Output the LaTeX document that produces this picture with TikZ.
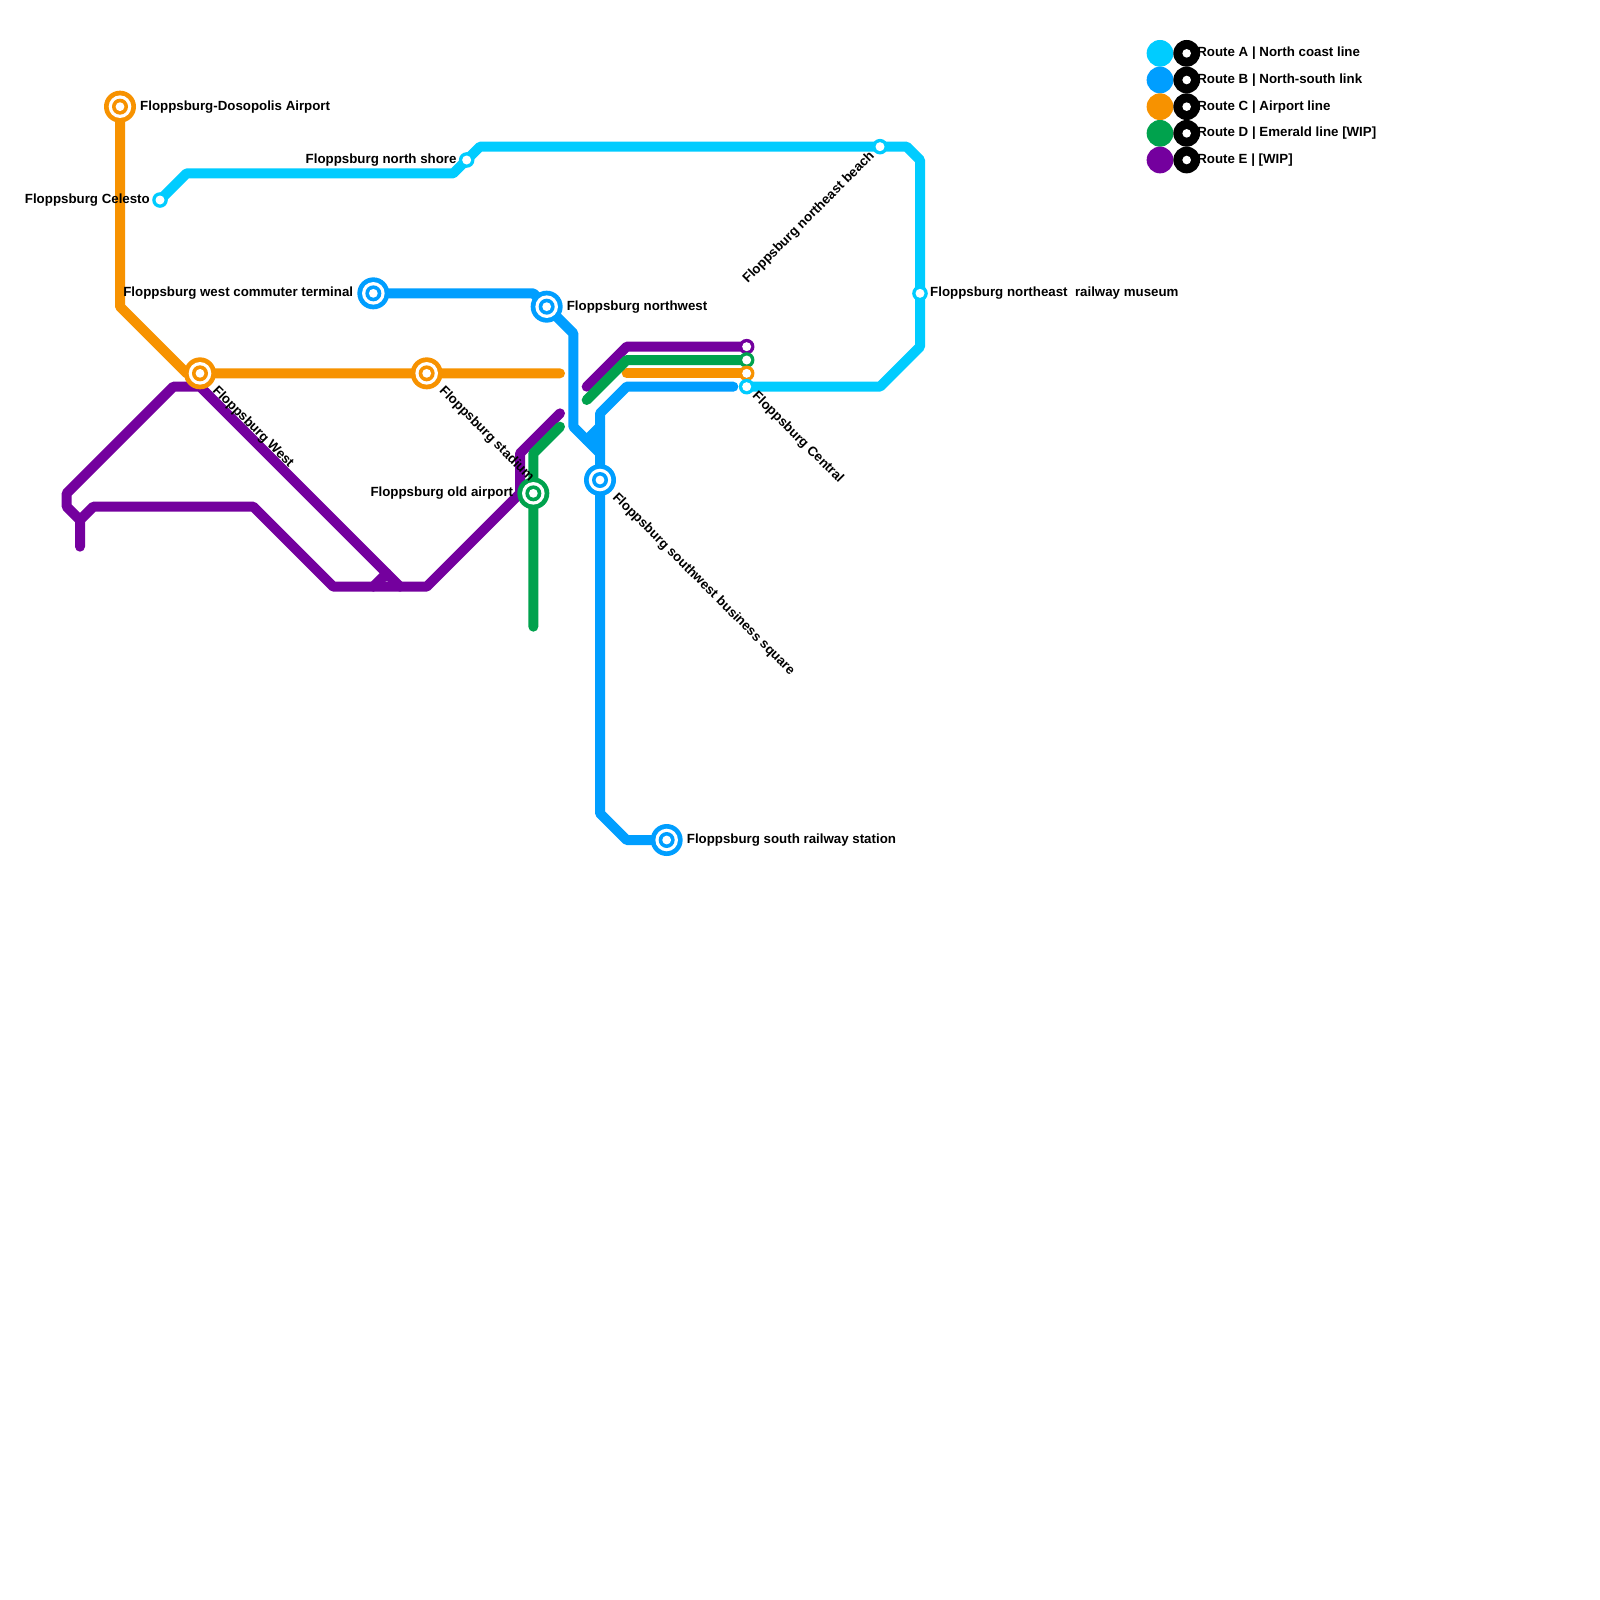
\documentclass[tikz,border=0pt]{standalone}
\usepackage{fontspec}
\setmainfont{Liberation Sans}[BoldFont={Liberation Sans Bold}]
\definecolor{routeA}{HTML}{00CCFF}
\definecolor{routeB}{HTML}{009EFF}
\definecolor{routeC}{HTML}{F79200}
\definecolor{routeD}{HTML}{00A24D}
\definecolor{routeE}{HTML}{74009E}
\tikzset{
  metro/.style={line width=10pt,line cap=round,line join=round,#1},
  lab/.style={font=\fontsize{13.3}{16}\selectfont\bfseries,text=black,inner sep=0pt},
  legdot/.style={circle,fill=#1,draw=none,minimum size=26.7pt,inner sep=0pt},
}
\newcommand{\bigstation}[3]{% name, coord, colour
  \fill[#3] (#2) circle (16pt);
  \fill[white] (#2) circle (11.3pt);
  \fill[#3] (#2) circle (8pt);
  \node[circle,fill=white,minimum size=8.8pt,inner sep=0pt] (#1) at (#2) {};
}
\newcommand{\smallstation}[3]{%
  \fill[#3] (#2) circle (7.8pt);
  \node[circle,fill=white,minimum size=9pt,inner sep=0pt] (#1) at (#2) {};
}
\begin{document}
\begin{tikzpicture}[x=13.3333pt,y=-13.3333pt]
\useasboundingbox[fill=white] (0,0) rectangle (120,120);
% station positions
\coordinate (pCelesto) at (12,15);
\coordinate (pShore) at (35,12);
\coordinate (pBeach) at (66,11);
\coordinate (pMuseum) at (69,22);
\coordinate (pCentral) at (56,29);
\coordinate (pCommuter) at (28,22);
\coordinate (pNorthwest) at (41,23);
\coordinate (pBusiness) at (45,36);
\coordinate (pSouth) at (50,63);
\coordinate (pAirport) at (9,8);
\coordinate (pWest) at (15,28);
\coordinate (pStadium) at (32,28);
\coordinate (pOld) at (40,37);
\coordinate (pEndC) at (56,28);
\coordinate (pEndD) at (56,27);
\coordinate (pEndE) at (56,26);
% Route A
\draw[metro=routeA] (pCelesto) -- (14,13) -- (34,13) -- (pShore) -- (36,11) -- (pBeach) -- (68,11) -- (69,12) -- (pMuseum) -- (69,26) -- (66,29) -- (pCentral);
% Route B
\draw[metro=routeB] (pCommuter) -- (40,22) -- (pNorthwest) -- (43,25) -- (43,32) -- (45,34);
\draw[metro=routeB] (44,33) -- (45,32);
\fill[routeB] (44.3,33) -- (45,32.3) -- (45,33.7) -- cycle;
\draw[metro=routeB] (55,29) -- (47,29) -- (45,31) -- (pBusiness) -- (45,61) -- (47,63) -- (pSouth);
% Route C
\draw[metro=routeC] (pAirport) -- (9,23) -- (14,28) -- (pWest) -- (pStadium) -- (42,28);
\draw[metro=routeC] (47,28) -- (pEndC);
% Route E
\draw[metro=routeE] (pEndE) -- (47,26) -- (44,29);
\draw[metro=routeE] (42,31) -- (39,34) -- (39,37) -- (32,44) -- (25,44) -- (19,38) -- (7,38) -- (6,39) -- (6,41);
\draw[metro=routeE] (6,39) -- (5,38) -- (5,37) -- (13,29) -- (15,29) -- (30,44);
\draw[metro=routeE] (29,43) -- (28,44);
\fill[routeE] (28.5,43.6) -- (29.5,43.6) -- (29,43.1) -- cycle;
% Route D
\draw[metro=routeD] (pEndD) -- (47,27) -- (44,30);
\draw[metro=routeD] (42,32) -- (40,34) -- (pOld) -- (40,47);
% stations
\smallstation{sEndE}{pEndE}{routeE}
\smallstation{sEndD}{pEndD}{routeD}
\smallstation{sEndC}{pEndC}{routeC}
\smallstation{sCentral}{pCentral}{routeA}
\smallstation{sCelesto}{pCelesto}{routeA}
\smallstation{sShore}{pShore}{routeA}
\smallstation{sBeach}{pBeach}{routeA}
\smallstation{sMuseum}{pMuseum}{routeA}
\bigstation{sCommuter}{pCommuter}{routeB}
\bigstation{sNorthwest}{pNorthwest}{routeB}
\bigstation{sBusiness}{pBusiness}{routeB}
\bigstation{sSouth}{pSouth}{routeB}
\bigstation{sAirport}{pAirport}{routeC}
\bigstation{sWest}{pWest}{routeC}
\bigstation{sStadium}{pStadium}{routeC}
\bigstation{sOld}{pOld}{routeD}
% labels
\node[lab,anchor=west] (lAirport) at ([xshift=20pt,yshift=0pt]pAirport) {Floppsburg-Dosopolis Airport};
\node[lab,anchor=east] (lCelesto) at ([xshift=-10pt,yshift=0pt]pCelesto) {Floppsburg Celesto};
\node[lab,anchor=east] (lShore) at ([xshift=-10pt,yshift=0pt]pShore) {Floppsburg north shore};
\node[lab,anchor=east] (lCommuter) at ([xshift=-20pt,yshift=0pt]pCommuter) {Floppsburg west commuter terminal};
\node[lab,anchor=west] (lNorthwest) at ([xshift=20pt,yshift=0pt]pNorthwest) {Floppsburg northwest};
\node[lab,anchor=west] (lMuseum) at ([xshift=10pt,yshift=0pt]pMuseum) {Floppsburg northeast\ \ railway museum};
\node[lab,anchor=west] (lSouth) at ([xshift=20pt,yshift=0pt]pSouth) {Floppsburg south railway station};
\node[lab,anchor=east] (lOld) at ([xshift=-20pt,yshift=0pt]pOld) {Floppsburg old airport};
\node[lab,anchor=west,rotate=-45] (lWest) at ([xshift=14.5pt,yshift=-15.5pt]pWest) {Floppsburg West};
\node[lab,anchor=west,rotate=-45] (lStadium) at ([xshift=14.5pt,yshift=-15.5pt]pStadium) {Floppsburg stadium};
\node[lab,anchor=west,rotate=-45] (lBusiness) at ([xshift=14.5pt,yshift=-15.5pt]pBusiness) {Floppsburg southwest business square};
\node[lab,anchor=west,rotate=-45] (lCentral) at ([xshift=7.5pt,yshift=-7.5pt]pCentral) {Floppsburg Central};
\node[lab,anchor=east,rotate=45] (lBeach) at ([xshift=-7.5pt,yshift=-7.5pt]pBeach) {Floppsburg northeast beach};
% legend
\foreach \i/\c/\t in {1/routeA/{Route A | North coast line},2/routeB/{Route B | North-south link},3/routeC/{Route C | Airport line},4/routeD/{Route D | Emerald line [WIP]},5/routeE/{Route E | [WIP]}}{
  \node[legdot=\c] (leg\i) at (87,{2+2*\i}) {};
  \node[legdot=black] (ring\i) at (89,{2+2*\i}) {};
  \node[circle,fill=white,minimum size=8.6pt,inner sep=0pt] (hole\i) at (89,{2+2*\i}) {};
  \node[lab,anchor=west] (text\i) at ([xshift=10.5pt,yshift=0pt]ring\i.center) {\t};
}
\end{tikzpicture}
\end{document}
